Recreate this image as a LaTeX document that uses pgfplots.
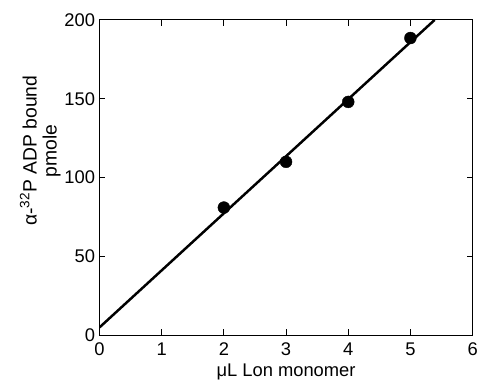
\documentclass[border=0pt]{standalone}
\usepackage{fontspec}
\setmainfont{Liberation Sans}
\usepackage{pgfplots}
\pgfplotsset{compat=1.18}
\usetikzlibrary{calc}
\begin{document}
\begin{tikzpicture}
\begin{axis}[
  scale only axis,
  width=375bp, height=317bp,
  xmin=0, xmax=6, ymin=0, ymax=200,
  xtick={0,1,...,6}, ytick={0,50,100,150,200},
  tick align=inside,
  major tick length=6bp,
  axis line style={line width=0.9pt},
  tick style={line width=0.9pt, black},
  /pgf/number format/assume math mode=true,
  ticklabel style={font=\fontsize{18.5}{20}\selectfont},
  xticklabel style={yshift=-4bp},
  yticklabel style={xshift=-1bp},
  xlabel={μL Lon monomer},
  ylabel={α-\textsuperscript{32}P ADP bound\\pmole},
  ylabel style={align=center, font=\fontsize{19.5}{20}\selectfont, at={(ticklabel cs:0.585)}, yshift=-3bp},
  xlabel style={font=\fontsize{18.5}{20}\selectfont, yshift=-1bp},
  clip=true,
]
\addplot[line width=2.5pt, black] coordinates {(0,5) (5.39,200)};
\addplot[only marks, mark=*, mark size=6bp, black] coordinates {(2,81) (3,110) (4,148) (5,188.5)};
\end{axis}
\path[use as bounding box] ($(current axis.south west)+(-100bp,-50bp)$) rectangle ($(current axis.north east)+(6bp,20bp)$);
\end{tikzpicture}
\end{document}
